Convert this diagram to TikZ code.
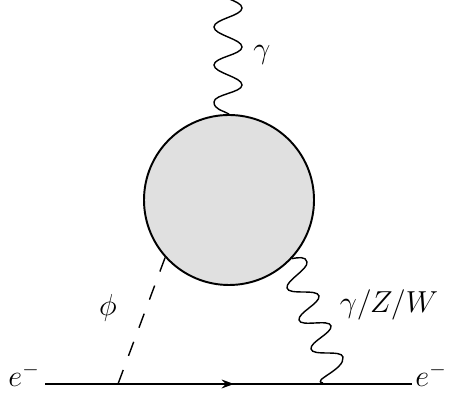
\documentclass[tikz,border=0pt]{standalone}
\usepackage{amsmath,amssymb}
\usetikzlibrary{arrows.meta,decorations.markings}
\definecolor{BlobGray}{gray}{0.88}
\tikzset{
  photon/.style={line width=0.8pt, looseness=0.6},
  scalar/.style={dash pattern=on 0.3cm off 0.3cm, line width=0.8pt},
  fermion/.style={line width=1.1pt, postaction={decorate},
    decoration={markings, mark=at position 0.515 with {\arrow{Stealth[length=7pt,width=5pt]}}}},
}

\begin{document}
\begin{tikzpicture}[
  lbl/.style={inner sep=0pt, font=\LARGE},
]
  \useasboundingbox (0,0) rectangle (8.98,7.92);
  \clip (0,0) rectangle (8.98,7.92);
  \coordinate (top) at (4.28,8.14);
  \coordinate (eL) at (0.9,0.24);
  \coordinate (eR) at (8.24,0.24);
  \coordinate (vphi) at (2.36,0.24);
  \coordinate (vgam) at (6.46,0.26);

  \node[draw, circle, fill=BlobGray, line width=1.1pt, minimum size=3.4cm, inner sep=0pt] (blob) at (4.58,3.92) {};

  \node[lbl] (lgam) at (5.24,6.82) {$\gamma$};
  \node[lbl] (lphi) at (2.16,1.76) {$\phi$};
  \node[lbl] (lzw) at (7.78,1.82) {$\gamma/Z/W$};
  \node[lbl] (lel) at (0.48,0.42) {$e^-$};
  \node[lbl] (ler) at (8.62,0.42) {$e^-$};

  % vertical photon
  \draw[photon] (blob.north) to[out=150,in=-90,looseness=1] (4.28,5.88) to[out=90,in=-90] (4.84,6.22)
    to[out=90,in=-90] (4.28,6.62) to[out=90,in=-90] (4.84,6.98)
    to[out=90,in=-90] (4.28,7.38) to[out=90,in=-90] (4.84,7.76)
    to[out=90,in=-90] (top);
  % skewed photon
  \draw[photon] (blob.-43) to[out=10,in=100,looseness=1] (6.14,2.68) to[out=-80,in=100] (5.74,2.16)
    to[out=-80,in=100] (6.38,2.00) to[out=-80,in=100] (5.98,1.52)
    to[out=-80,in=100] (6.62,1.40) to[out=-80,in=100] (6.22,0.94)
    to[out=-80,in=100] (6.86,0.78) to[out=-80,in=170,looseness=1] (vgam);
  \draw[scalar] (vphi) -- (blob.-138);
  \draw[fermion] (eL) -- (eR);
\end{tikzpicture}
\end{document}
